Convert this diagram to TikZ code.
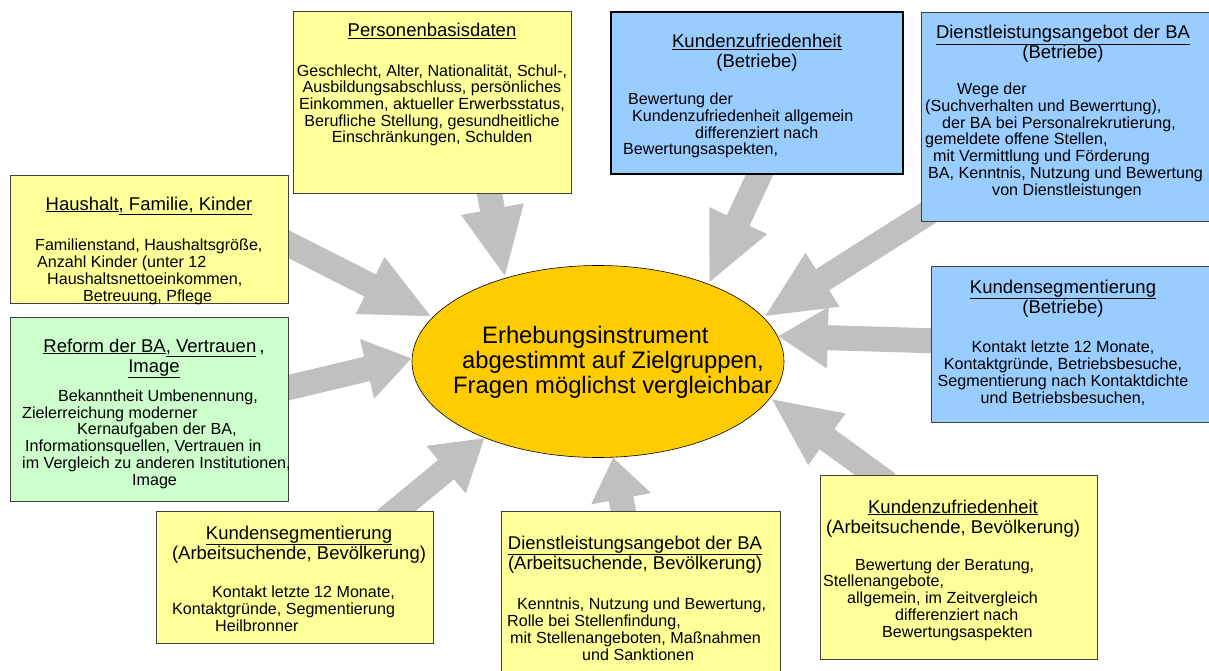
\documentclass[tikz,border=0pt]{standalone}
\usepackage{fontspec}
\setmainfont{Liberation Sans}
\usepackage{tikz}
\usetikzlibrary{positioning,arrows.meta,shapes.geometric,calc}

\definecolor{paleyellow}{HTML}{FFFF99}
\definecolor{paleblue}{HTML}{99CCFF}
\definecolor{palegreen}{HTML}{CCFFCC}
\definecolor{gold}{HTML}{FFCC00}
\definecolor{arrowgray}{HTML}{C0C0C0}

\newcommand{\txtfont}{\fontsize{16.1}{16.7}\selectfont}
\newcommand{\ttlfont}{\fontsize{18.5}{20}\selectfont}
\newcommand{\ellfont}{\fontsize{23.8}{25}\selectfont}

\pgfdeclarelayer{bg}
\pgfsetlayers{bg,main}

\begin{document}
\begin{tikzpicture}[
    x=1pt, y=-1pt,
    card/.style={rectangle, draw=black!75, line width=0.8pt, inner sep=0pt},
    yellowbox/.style={card, fill=paleyellow},
    bluebox/.style={card, fill=paleblue},
    greenbox/.style={card, fill=palegreen},
    ttl/.style={inner sep=0pt, font=\ttlfont, align=center, anchor=base},
    txt/.style={inner sep=0pt, font=\txtfont, align=left, anchor=base west},
    feed/.style={draw=arrowgray, line width=25pt, -{Triangle[width=58pt 0 0, length=#1 0 0]}},
    feed/.default=70pt
]
\path[use as bounding box] (0,0) rectangle (1209,671);

% centre (base anchors sit on the last line)
\node[ellipse, draw=black, line width=0.6pt, fill=gold, inner sep=0pt,
      minimum width=372pt, minimum height=192pt] (inst) at (598,361.5) {};
\node[inner sep=0pt, font=\ellfont, align=left, anchor=base west] (inst-t) at (453,393)
  {\hspace*{29pt}Erhebungsinstrument\\
   \hspace*{9pt}abgestimmt auf Zielgruppen,\\
   Fragen möglichst vergleichbar};

% top row
\node[yellowbox, minimum width=278pt, minimum height=182pt] (pers) at (432,102) {};
\node[ttl] (pers-t) at (432,37) {\underline{Personenbasisdaten}};
\node[txt, align=center, anchor=base] (pers-b) at (432,143)
  {Geschlecht, Alter, Nationalität, Schul-,\\
   Ausbildungsabschluss, persönliches\\
   Einkommen, aktueller Erwerbsstatus,\\
   Berufliche Stellung, gesundheitliche\\
   Einschränkungen, Schulden};

\node[bluebox, draw=black, line width=2.5pt, minimum width=292pt, minimum height=162pt] (zb) at (757,93) {};
\node[ttl] (zb-t) at (757,68) {\underline{Kundenzufriedenheit}\\(Betriebe)};
\node[txt] (zb-b) at (623,155)
  {\hspace*{5pt}Bewertung der\\
   \hspace*{9pt}Kundenzufriedenheit allgemein\\
   \hspace*{72pt}differenziert nach\\
   Bewertungsaspekten,};

\node[bluebox, minimum width=294pt, minimum height=209pt] (db) at (1068,116.5) {};
\node[ttl] (db-t) at (1063,59) {\underline{Dienstleistungsangebot der BA}\\(Betriebe)};
\node[txt] (db-b) at (925,195)
  {\hspace*{32pt}Wege der\\
   (Suchverhalten und Bewerrtung),\\
   \hspace*{17pt}der BA bei Personalrekrutierung,\\
   gemeldete offene Stellen,\\
   \hspace*{8pt}mit Vermittlung und Förderung\\
   \hspace*{3pt}BA, Kenntnis, Nutzung und Bewertung\\
   \hspace*{67pt}von Dienstleistungen};

% left column
\node[yellowbox, minimum width=278pt, minimum height=128pt] (hh) at (149,239) {};
\node[ttl] (hh-t) at (149,210) {\underline{Haushalt}\underline{, Familie, Kinder}};
\node[txt] (hh-b) at (35,301)
  {Familienstand, Haushaltsgröße,\\
   \hspace*{2pt}Anzahl Kinder (unter 12\\
   \hspace*{12pt}Haushaltsnettoeinkommen,\\
   \hspace*{48pt}Betreuung, Pflege};

\node[greenbox, minimum width=278pt, minimum height=184pt] (rf) at (149,409) {};
\node[ttl] (rf-t) at (154,372) {\underline{Reform der BA}\underline{, Vertrauen}\,,\\\underline{Image}};
\node[txt] (rf-b) at (22,485)
  {\hspace*{36pt}Bekanntheit Umbenennung,\\
   Zielerreichung moderner\\
   \hspace*{55pt}Kernaufgaben der BA,\\
   \hspace*{3pt}Informationsquellen, Vertrauen in\\
   im Vergleich zu anderen Institutionen,\\
   \hspace*{110pt}Image};

% right column
\node[bluebox, minimum width=284pt, minimum height=156pt] (kb) at (1073,344) {};
\node[ttl] (kb-t) at (1063,313) {\underline{Kundensegmentierung}\\(Betriebe)};
\node[txt, align=center, anchor=base] (kb-b) at (1063,403)
  {Kontakt letzte 12 Monate,\\
   Kontaktgründe, Betriebsbesuche,\\
   Segmentierung nach Kontaktdichte\\
   und Betriebsbesuchen,};

\node[yellowbox, minimum width=277pt, minimum height=184pt] (za) at (958.5,567) {};
\node[ttl] (za-t) at (953,533) {\underline{Kundenzufriedenheit}\\(Arbeitsuchende, Bevölkerung)};
\node[txt] (za-b) at (823,637)
  {\hspace*{32pt}Bewertung der Beratung,\\
   Stellenangebote,\\
   \hspace*{24pt}allgemein, im Zeitvergleich\\
   \hspace*{72pt}differenziert nach\\
   \hspace*{59pt}Bewertungsaspekten};

% bottom row
\node[yellowbox, minimum width=277pt, minimum height=132pt] (ka) at (294.5,577) {};
\node[ttl] (ka-t) at (299,559) {\underline{Kundensegmentierung}\\(Arbeitsuchende, Bevölkerung)};
\node[txt] (ka-b) at (172,631)
  {\hspace*{40pt}Kontakt letzte 12 Monate,\\
   Kontaktgründe, Segmentierung\\
   \hspace*{43pt}Heilbronner};

\node[yellowbox, minimum width=279pt, minimum height=179pt] (da) at (640.5,600.5) {};
\node[ttl] (da-t) at (635,569) {\underline{Dienstleistungsangebot der BA}\\(Arbeitsuchende, Bevölkerung)};
\node[txt] (da-b) at (507,660)
  {\hspace*{10pt}Kenntnis, Nutzung und Bewertung,\\
   Rolle bei Stellenfindung,\\
   \hspace*{3pt}mit Stellenangeboten, Maßnahmen\\
   \hspace*{75pt}und Sanktionen};

% grey block arrows behind everything
\begin{pgfonlayer}{bg}
\fill[white] (0,0) rectangle (1209,671);
\draw[feed] ($(pers.south)+(56,-8)$) -- (inst.138);
\draw[feed] ($(zb.south)+(6,-8)$) -- (inst.35);
\draw[feed] ($(db.west)+(12,93.5)$) -- (inst.15);
\draw[feed=50pt] ($(kb.west)+(10,-3)$) -- (inst.8);
\draw[feed] ($(za.north)+(-70.5,9)$) -- (inst.-12);
\draw[feed=42pt] ($(da.north)+(-15.5,9)$) -- (inst.-81);
\draw[feed=50pt] ($(ka.north east)+(-48,9)$) -- (inst.214);
\draw[feed=46pt] ($(rf.east)+(-10,-19)$) -- (inst.179);
\draw[feed] ($(hh.east)+(-10,0)$) -- (inst.165);
\end{pgfonlayer}
\end{tikzpicture}
\end{document}
